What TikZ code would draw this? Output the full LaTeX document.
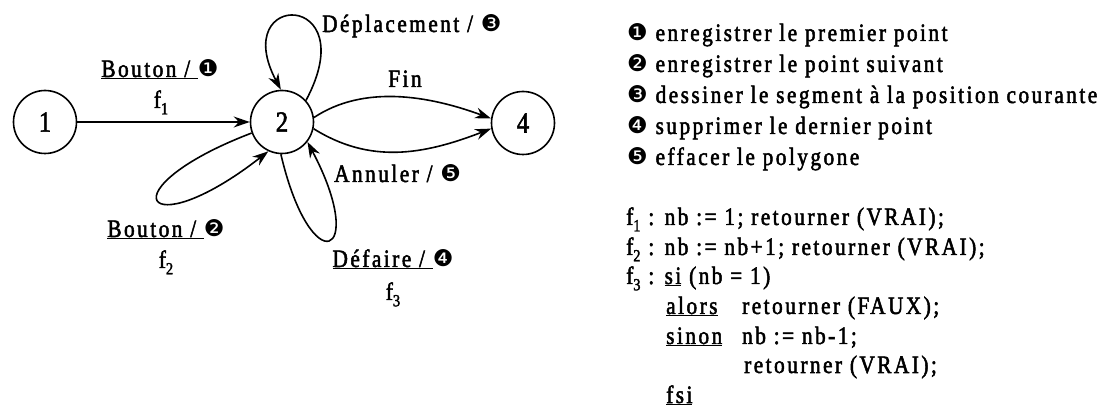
\documentclass[tikz,border=0pt]{standalone}
\usepackage{fontspec}
\setmainfont{Liberation Serif}[LetterSpace=10,FakeStretch=0.85,FakeBold=2]
\newfontfamily\dingfont{DejaVu Sans}
\usetikzlibrary{arrows.meta}
\newcommand\bul[1]{{\dingfont\fontsize{23}{23}\selectfont #1}}
\newcommand\fs[1]{f\raisebox{-0.55ex}{\fontsize{17}{17}\selectfont #1}}
\tikzset{
  state/.style={draw, circle, minimum size=63pt, inner sep=0pt, line width=1.6pt,
    font=\fontsize{29}{29}\selectfont},
  lbl/.style={inner sep=0pt, font=\fontsize{25}{29}\selectfont},
  conn/.style={line width=1.6pt, -{Stealth[length=16pt,width=11pt]}},
}
\begin{document}
\begin{tikzpicture}[x=1pt,y=-1pt]
\useasboundingbox (0,0) rectangle (1111,411);
% states
\node[state] (n1) at (45,122) {1};
\node[state] (n2) at (282,122) {2};
\node[state] (n4) at (523,123) {4};
% transitions
\draw[conn] (n1) -- (n2);
\draw[conn] (n2.42) .. controls (365,-10) and (228,-10) .. (n2.92);
\draw[conn] (n2.200) .. controls (105,189) and (143,249) .. (n2.245);
\draw[conn] (n2.268) .. controls (311,283) and (369,258) .. (n2.322);
\draw[conn] (n2.8) .. controls (363,85) and (427,95) .. (n4.172);
\draw[conn] (n2.-12) .. controls (370,164) and (423,155) .. (n4.190);
% labels
\node[lbl, anchor=base west] (ldep) at (322,32) {Déplacement / \bul{❸}};
\node[lbl, anchor=base] (lb1) at (160,77) {\underline{Bouton /\ }\bul{❶}};
\node[lbl, anchor=base] (lf1) at (161,108) {\fs{1}};
\node[lbl, anchor=base] (lfin) at (405,87) {Fin};
\node[lbl, anchor=base west] (lann) at (334,182) {Annuler / \bul{❺}};
\node[lbl, anchor=base] (lb2) at (166,237) {\underline{Bouton /\ }\bul{❷}};
\node[lbl, anchor=base] (lf2) at (166,268) {\fs{2}};
\node[lbl, anchor=base] (ldef) at (393,267) {\underline{Défaire /\ }\bul{❹}};
\node[lbl, anchor=base] (lf3) at (393,300) {\fs{3}};
% legend
\node[lbl, anchor=base west] (t1) at (627,41) {\bul{❶} enregistrer le premier point};
\node[lbl, anchor=base west] (t2) at (627,72) {\bul{❷} enregistrer le point suivant};
\node[lbl, anchor=base west] (t3) at (627,103) {\bul{❸} dessiner le segment à la position courante};
\node[lbl, anchor=base west] (t4) at (627,134) {\bul{❹} supprimer le dernier point};
\node[lbl, anchor=base west] (t5) at (627,165) {\bul{❺} effacer le polygone};
% functions
\node[lbl, anchor=base west] (g1) at (626,225) {\fs{1} : nb := 1; retourner (VRAI);};
\node[lbl, anchor=base west] (g2) at (626,255) {\fs{2} : nb := nb+1; retourner (VRAI);};
\node[lbl, anchor=base west] (g3) at (626,284) {\fs{3} : \underline{si} (nb = 1)};
\node[lbl, anchor=base west] (g4) at (666,314) {\underline{alors}};
\node[lbl, anchor=base west] (g4b) at (742,314) {retourner (FAUX);};
\node[lbl, anchor=base west] (g5) at (666,344) {\underline{sinon}};
\node[lbl, anchor=base west] (g5b) at (742,344) {nb := nb-1;};
\node[lbl, anchor=base west] (g6) at (744,373) {retourner (VRAI);};
\node[lbl, anchor=base west] (g7) at (666,403) {\underline{fsi}};
\end{tikzpicture}
\end{document}
